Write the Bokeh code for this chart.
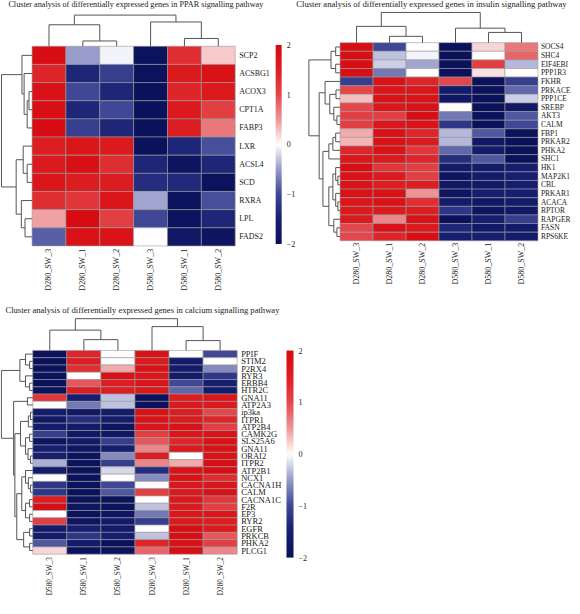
import numpy as np
from bokeh.plotting import figure
from bokeh.models import Range1d, LinearColorMapper, ColorBar, FixedTicker, ColumnDataSource
from bokeh.core.properties import value
from bokeh.embed import file_html
from bokeh.resources import INLINE

# ---------------- data ----------------
titles = [
    "Cluster analysis of differentially expressed genes in PPAR signalling pathway",
    "Cluster analysis of differentially expressed genes in insulin signalling pathway",
    "Cluster analysis of differentially expressed genes in calcium signalling pathway",
]

ppar_samples = ["D280_SW_3", "D280_SW_1", "D280_SW_2", "D580_SW_3", "D580_SW_1", "D580_SW_2"]
ppar_genes = ["SCP2", "ACSBG1", "ACOX3", "CPT1A", "FABP3", "LXR", "ACSL4", "SCD", "RXRA", "LPL", "FADS2"]
ppar_values = [
    [1.9, -0.5, -0.05, -1.9, 1.3, 0.25],
    [1.4, -1.4, -1.1, -1.9, 1.6, 1.8],
    [1.8, -1.0, -1.4, -1.95, 1.4, 1.6],
    [1.85, -1.4, -1.0, -1.95, 1.6, 1.1],
    [1.95, -1.1, -1.4, -1.95, 1.5, 0.7],
    [1.5, 1.7, 1.6, -1.95, -1.4, -0.95],
    [1.6, 1.85, 1.3, -1.4, -1.8, -1.4],
    [1.7, 1.55, 1.55, -1.3, -1.35, -1.9],
    [1.3, 1.2, 1.7, -0.45, -1.9, -0.95],
    [0.45, 1.95, 1.1, -1.0, -1.85, -1.4],
    [-0.85, 1.8, 1.75, 0.0, -1.7, -1.8],
]
ppar_col_link = [(1, 2, 0.17), (0, 6, 0.69), (4, 5, 0.25), (3, 8, 0.78), (7, 9, 1.0)]
ppar_row_link = [(2, 3, 0.10), (11, 4, 0.16), (1, 12, 0.26), (0, 13, 0.33), (6, 7, 0.16),
                 (5, 15, 0.29), (9, 10, 0.23), (8, 17, 0.35), (16, 18, 0.52), (14, 19, 1.0)]

insulin_samples = ["D280_SW_3", "D280_SW_1", "D280_SW_2", "D580_SW_3", "D580_SW_1", "D580_SW_2"]
insulin_genes = ["SOCS4", "SHC4", "EIF4EBI", "PPP1R3", "FKHR", "PRKACE", "PPP1CE", "SREBP", "AKT3",
                 "CALM", "FBP1", "PRKAR2", "PHKA2", "SHC1", "HK1", "MAP2K1", "CBL", "PRKAR1",
                 "ACACA", "RPTOR", "RAPGER", "FASN", "RPS6KE"]
insulin_values = [
    [1.9, -1.0, 0.0, -1.95, 0.2, 0.7],
    [1.9, -0.3, -0.05, -1.95, 0.0, 0.8],
    [1.9, -0.25, -0.45, -1.95, 1.1, -0.35],
    [1.9, -0.7, 0.0, -1.95, 0.15, 0.0],
    [-1.1, 1.8, 1.4, 1.0, -1.95, -1.1],
    [1.0, 1.7, 1.7, -1.6, -1.95, -0.8],
    [0.3, 1.8, 1.75, -1.7, -1.95, -0.25],
    [1.0, 1.7, 1.8, 0.0, -1.95, -1.7],
    [1.1, 1.1, 1.9, -0.7, -1.9, -0.9],
    [1.1, 1.7, 1.75, -1.2, -1.95, -1.0],
    [0.4, 1.8, 1.4, -0.35, -0.9, -1.95],
    [0.35, 1.8, 1.6, -0.35, -1.7, -1.95],
    [1.4, 1.8, 1.2, -0.8, -1.6, -1.95],
    [1.7, 1.6, 1.4, -1.3, -0.9, -1.95],
    [1.9, 1.2, 1.1, -1.6, -1.6, -1.5],
    [1.8, 1.6, 1.1, -1.8, -1.6, -1.5],
    [1.8, 1.5, 1.5, -1.7, -1.7, -1.5],
    [1.8, 1.8, 0.5, -1.8, -1.5, -1.5],
    [1.7, 1.8, 1.3, -1.6, -1.7, -1.6],
    [1.6, 1.6, 1.5, -1.2, -1.8, -1.7],
    [1.6, 0.6, 1.8, -1.95, -1.5, -1.1],
    [1.0, 1.8, 1.6, -1.4, -1.7, -1.6],
    [1.0, 1.4, 1.9, -1.5, -1.5, -1.6],
]
insulin_col_link = [(1, 2, 0.21), (0, 6, 0.54), (4, 5, 0.34), (3, 8, 0.48), (7, 9, 1.0)]
insulin_row_link = [(0, 1, 0.14), (2, 3, 0.14), (23, 24, 0.29), (5, 6, 0.13), (8, 9, 0.10),
                    (7, 27, 0.20), (26, 28, 0.33), (4, 29, 0.48), (10, 11, 0.14), (31, 12, 0.23),
                    (32, 13, 0.36), (15, 16, 0.07), (14, 34, 0.14), (18, 19, 0.07), (17, 36, 0.14),
                    (35, 37, 0.23), (21, 22, 0.10), (20, 39, 0.20), (38, 40, 0.36), (33, 41, 0.55),
                    (30, 42, 0.67), (25, 43, 1.0)]

calcium_samples = ["D580_SW_3", "D580_SW_1", "D580_SW_2", "D280_SW_3", "D280_SW_1", "D280_SW_2"]
calcium_genes = ["PPIF", "STIM2", "P2RX4", "RYR3", "ERBB4", "HTR2C", "GNA11", "ATP2A3", "ip3ka",
                 "ITPR1", "ATP2B4", "CAMK2G", "SLS25A6", "GNA11", "ORAI2", "ITPR2", "ATP2B1", "NCX1",
                 "CACNA1H", "CALM", "CACNA1C", "F2R", "EP3", "RYR2", "EGFR", "PRKCB", "PHKA2", "PLCG1"]
calcium_values = [
    [-1.95, 1.4, 0.0, 1.8, 0.0, -1.0],
    [-1.95, 1.5, 0.0, 1.6, -1.6, 0.0],
    [-1.95, 1.3, 0.4, 1.8, -1.6, -0.6],
    [-1.9, 0.0, 1.8, 1.7, -1.6, -1.2],
    [-1.95, 0.9, 1.5, 1.7, -1.0, -1.5],
    [-1.9, 1.5, 1.5, 1.6, -0.8, -1.6],
    [1.2, -1.5, -0.3, -1.95, 1.5, 1.7],
    [0.0, -0.7, -0.3, -1.95, 1.6, 1.6],
    [-1.6, -1.7, -1.6, 1.8, 1.5, 1.0],
    [-1.7, -1.3, -1.6, 1.8, 1.6, 1.4],
    [-1.6, -1.6, -1.8, 1.7, 1.8, 1.1],
    [-1.1, -1.7, -1.7, 1.1, 1.7, 1.8],
    [-1.8, -1.6, -1.1, 0.9, 1.4, 1.8],
    [-1.5, -1.8, -1.5, 0.6, 1.6, 1.8],
    [-1.5, -1.9, -0.6, 1.5, 0.0, 1.8],
    [-0.4, -1.9, -1.1, 0.6, 0.4, 1.9],
    [-1.6, -1.9, -0.2, -1.3, 1.8, 1.9],
    [0.0, -1.9, 0.0, -0.6, 1.8, 1.3],
    [-1.2, -1.9, -1.0, 0.0, 1.7, 1.7],
    [-1.2, -1.9, -0.9, 1.1, 1.6, 1.8],
    [1.5, -1.9, -1.9, 0.0, 1.7, 1.2],
    [1.9, -1.8, -1.9, -0.3, 1.6, 1.1],
    [0.0, -1.9, -1.8, -0.7, 1.7, 1.7],
    [1.1, -1.8, -1.6, -1.1, 1.6, 1.5],
    [-1.6, -1.5, -1.6, 0.0, 1.9, 1.6],
    [-1.6, -1.2, -1.5, -0.3, 1.9, 0.9],
    [-0.9, -1.6, -1.95, 1.4, 1.8, 1.1],
    [0.2, -1.9, -1.9, 0.8, 1.9, 0.6],
]
calcium_col_link = [(1, 2, 0.34), (0, 6, 0.64), (4, 5, 0.31), (3, 8, 0.75), (7, 9, 1.0)]
calcium_row_link = [(1, 2, 0.10), (0, 28, 0.23), (4, 5, 0.10), (3, 30, 0.23), (29, 31, 0.41),
                    (6, 7, 0.17), (8, 9, 0.07), (34, 10, 0.14), (11, 12, 0.10), (14, 15, 0.07),
                    (13, 37, 0.15), (36, 38, 0.23), (35, 39, 0.39), (18, 19, 0.07), (17, 41, 0.14),
                    (16, 42, 0.23), (20, 21, 0.10), (22, 23, 0.10), (44, 45, 0.23), (24, 25, 0.10),
                    (26, 27, 0.10), (47, 48, 0.29), (43, 46, 0.35), (50, 49, 0.51), (40, 51, 0.57),
                    (33, 52, 0.61), (32, 53, 1.0)]

colorbar_ticks = [-2, -1, 0, 1, 2]

# ---------------- styling ----------------
FONT = value("Liberation Serif")
anchor_v = [-2, -1.5, -1, -0.5, 0, 0.5, 1, 1.5, 2]
anchor_rgb = [(10, 16, 88), (22, 30, 112), (62, 70, 150), (150, 155, 202), (255, 255, 255),
              (238, 150, 152), (228, 72, 76), (220, 30, 34), (214, 10, 16)]
grid_v = np.linspace(-2, 2, 256)
palette = ["#%02x%02x%02x" % tuple(int(round(np.interp(g, anchor_v, [c[k] for c in anchor_rgb])))
                                   for k in range(3)) for g in grid_v]
mapper = LinearColorMapper(palette=palette, low=-2, high=2)

W, H = 572, 598
RW, RH = 580.0, 614.0
sx, sy = W / RW, H / RH

p = figure(width=W, height=H, x_range=Range1d(0, RW), y_range=Range1d(RH, 0),
           output_backend="svg", toolbar_location=None, min_border=0,
           x_axis_location=None, y_axis_location=None)
p.grid.visible = False
p.outline_line_color = None
p.background_fill_color = "white"

LINE = "#555555"


def dendro(link, n, leaf_pos, base, span, orient):
    pos = list(leaf_pos)
    hgt = [0.0] * n
    segs = []
    for a, b, h in link:
        pa, pb, ha, hb = pos[a], pos[b], hgt[a], hgt[b]
        segs += [(pa, ha, pa, h), (pb, hb, pb, h), (pa, h, pb, h)]
        pos.append((pa + pb) / 2.0)
        hgt.append(h)
    if orient == "top":
        x0 = [s[0] for s in segs]; x1 = [s[2] for s in segs]
        y0 = [base - s[1] * span for s in segs]; y1 = [base - s[3] * span for s in segs]
    else:
        y0 = [s[0] for s in segs]; y1 = [s[2] for s in segs]
        x0 = [base - s[1] * span for s in segs]; x1 = [base - s[3] * span for s in segs]
    p.segment(x0=x0, y0=y0, x1=x1, y1=y1, line_color=LINE, line_width=1)


def panel(genes, samples, vals, col_link, row_link, left, top, right, bottom,
          col_span, row_span, row_fs, col_fs, lab_gap, col_lab_gap):
    nr, nc = len(genes), len(samples)
    cw = (right - left) / nc
    rh = (bottom - top) / nr
    xs, ys, vs = [], [], []
    for i in range(nr):
        for j in range(nc):
            xs.append(left + (j + 0.5) * cw)
            ys.append(top + (i + 0.5) * rh)
            vs.append(vals[i][j])
    src = ColumnDataSource(dict(x=xs, y=ys, v=vs))
    p.rect("x", "y", width=cw, height=rh, source=src,
           fill_color={"field": "v", "transform": mapper},
           line_color="#9a9a9a", line_width=0.6)
    p.text(x=[right + lab_gap] * nr, y=[top + (i + 0.5) * rh for i in range(nr)], text=genes,
           text_font=FONT, text_font_size=row_fs, text_baseline="middle", text_align="left",
           text_color="#1a1a1a")
    p.text(x=[left + (j + 0.5) * cw for j in range(nc)], y=[bottom + col_lab_gap] * nc, text=samples,
           angle=np.pi / 2, text_font=FONT, text_font_size=col_fs, text_baseline="middle",
           text_align="right", text_color="#1a1a1a")
    dendro(col_link, nc, [left + (j + 0.5) * cw for j in range(nc)], top, col_span, "top")
    dendro(row_link, nr, [top + (i + 0.5) * rh for i in range(nr)], left, row_span, "left")


def cbar(x0, x1, y0, y1):
    cb = ColorBar(color_mapper=mapper, location=(x0 * sx, H - y1 * sy),
                  width=max(1, int(round((x1 - x0) * sx))), height=int(round((y1 - y0) * sy)),
                  padding=0, margin=0, ticker=FixedTicker(ticks=colorbar_ticks),
                  major_tick_line_color=None, minor_tick_line_color=None,
                  major_label_text_font="Liberation Serif", major_label_text_font_size="8px",
                  major_label_text_color="#1a1a1a", label_standoff=5,
                  background_fill_alpha=0, border_line_color=None, bar_line_color=None)
    p.add_layout(cb)


panel(ppar_genes, ppar_samples, ppar_values, ppar_col_link, ppar_row_link,
      32, 47, 238, 252, 32, 31, "8px", "8px", 4, 3)
panel(insulin_genes, insulin_samples, insulin_values, insulin_col_link, insulin_row_link,
      344.3, 43.3, 545, 246.7, 31, 31.6, "7.5px", "8px", 3, 2)
panel(calcium_genes, calcium_samples, calcium_values, calcium_col_link, calcium_row_link,
      32.7, 359.3, 240, 568.5, 32.6, 31.8, "8.5px", "7.3px", 4, 3)

cbar(279, 285, 46, 250)
cbar(290, 297, 359, 572)

title_x = [8, 300, 5]
title_y = [4, 4, 318]
title_fs = ["8.2px", "8.6px", "8.6px"]
for tx, ty, tt, fs in zip(title_x, title_y, titles, title_fs):
    p.text(x=[tx], y=[ty], text=[tt], text_font=FONT, text_font_size=fs,
           text_baseline="middle", text_align="left", text_color="#222222")

open("out.html", "w").write(file_html(p, INLINE))
